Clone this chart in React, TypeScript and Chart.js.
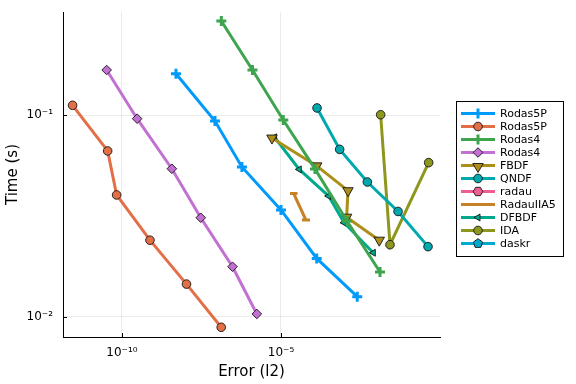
import React, { useEffect, useRef } from "react";
import { Chart, registerables } from "chart.js";

Chart.register(...registerables);

// ---- data ----
const rodas5pAErr = [5.0e-9, 8.4e-8, 5.9e-7, 1.0e-5, 1.33e-4, 2.5e-3];
const rodas5pATime = [0.16, 0.0933, 0.0553, 0.0339, 0.0195, 0.0126];

const rodas5pBErr = [2.8e-12, 3.55e-11, 6.8e-11, 7.6e-10, 1.07e-8, 1.32e-7];
const rodas5pBTime = [0.1117, 0.0664, 0.0402, 0.024, 0.01455, 0.00889];

const rodas4AErr = [1.33e-7, 1.27e-6, 1.18e-5, 1.17e-4, 1.19e-3, 1.3e-2];
const rodas4ATime = [0.292, 0.167, 0.0944, 0.0541, 0.0299, 0.0167];

const rodas4BErr = [3.3e-11, 3.0e-10, 3.7e-9, 3.0e-8, 3.0e-7, 1.74e-6];
const rodas4BTime = [0.167, 0.0959, 0.0542, 0.031, 0.01774, 0.01035];

const fbdfErr = [5.2e-6, 1.33e-4, 1.28e-3, 1.16e-3, 1.23e-2];
const fbdfTime = [0.0769, 0.056, 0.0422, 0.0312, 0.024];

const qndfErr = [1.36e-4, 7.0e-4, 5.2e-3, 4.8e-2, 0.42];
const qndfTime = [0.1084, 0.0676, 0.0466, 0.0333, 0.0223];

const radauErr: number[] = [];
const radauTime: number[] = [];

const radauIIA5Err = [1.92e-5, 3.3e-5, 2.5e-5, 6.1e-5, 4.57e-5, 8.17e-5];
const radauIIA5Time = [0.0409, 0.0409, 0.0409, 0.0302, 0.0302, 0.0302];

const dfbdfErr = [6.3e-6, 3.76e-5, 3.16e-4, 9.6e-4, 8.0e-3];
const dfbdfTime = [0.0776, 0.0538, 0.0397, 0.0293, 0.0208];

const idaErr = [1.36e-2, 2.68e-2, 0.44];
const idaTime = [0.1003, 0.0228, 0.0581];

const daskrErr: number[] = [];
const daskrTime: number[] = [];

const seriesNames = ["Rodas5P", "Rodas5P", "Rodas4", "Rodas4", "FBDF", "QNDF", "radau", "RadauIIA5", "DFBDF", "IDA", "daskr"];
const seriesColors = ["#009AFA", "#E36F47", "#3EA44E", "#C271D2", "#AC8E18", "#00A9AD", "#ED5E93", "#C68225", "#00A98D", "#8E971D", "#00A9CD"];
const seriesMarkers = ["cross", "circle", "cross", "diamond", "triDown", "circle", "hexagon", "none", "triLeft", "circle", "pentagon"];
const seriesErr = [rodas5pAErr, rodas5pBErr, rodas4AErr, rodas4BErr, fbdfErr, qndfErr, radauErr, radauIIA5Err, dfbdfErr, idaErr, daskrErr];
const seriesTime = [rodas5pATime, rodas5pBTime, rodas4ATime, rodas4BTime, fbdfTime, qndfTime, radauTime, radauIIA5Time, dfbdfTime, idaTime, daskrTime];

const xTickValues = [1e-10, 1e-5];
const xTickLabels = ["10⁻¹⁰", "10⁻⁵"];
const yTickValues = [1e-2, 1e-1];
const yTickLabels = ["10⁻²", "10⁻¹"];

const X_MIN = 1.4e-12;
const X_MAX = 1.0;
const Y_MIN = 0.00796;
const Y_MAX = 0.3236;

const FONT = "'DejaVu Sans', sans-serif";
const EDGE = "rgba(20,20,20,0.9)";

function chartPointStyle(m: string) {
  switch (m) {
    case "cross": return { pointStyle: "cross", rotation: 0 };
    case "circle": return { pointStyle: "circle", rotation: 0 };
    case "diamond": return { pointStyle: "rectRot", rotation: 0 };
    case "triDown": return { pointStyle: "triangle", rotation: 180 };
    case "triLeft": return { pointStyle: "triangle", rotation: -90 };
    default: return { pointStyle: false as any, rotation: 0 };
  }
}

function polygon(ctx: CanvasRenderingContext2D, x: number, y: number, r: number, n: number, start: number) {
  ctx.beginPath();
  for (let i = 0; i < n; i++) {
    const a = start + (i * 2 * Math.PI) / n;
    const px = x + r * Math.cos(a);
    const py = y + r * Math.sin(a);
    if (i === 0) ctx.moveTo(px, py); else ctx.lineTo(px, py);
  }
  ctx.closePath();
}

function drawMarker(ctx: CanvasRenderingContext2D, m: string, x: number, y: number, color: string) {
  ctx.save();
  ctx.fillStyle = color;
  ctx.strokeStyle = EDGE;
  ctx.lineWidth = 1;
  if (m === "cross") {
    ctx.strokeStyle = color;
    ctx.lineWidth = 3;
    ctx.beginPath();
    ctx.moveTo(x - 5, y); ctx.lineTo(x + 5, y);
    ctx.moveTo(x, y - 5); ctx.lineTo(x, y + 5);
    ctx.stroke();
  } else if (m === "circle") {
    ctx.beginPath(); ctx.arc(x, y, 4.3, 0, Math.PI * 2); ctx.fill(); ctx.stroke();
  } else if (m === "diamond") {
    polygon(ctx, x, y, 4.8, 4, -Math.PI / 2); ctx.fill(); ctx.stroke();
  } else if (m === "triDown") {
    polygon(ctx, x, y + 1, 6, 3, Math.PI / 2); ctx.fill(); ctx.stroke();
  } else if (m === "triLeft") {
    polygon(ctx, x, y, 4, 3, Math.PI); ctx.fill(); ctx.stroke();
  } else if (m === "hexagon") {
    polygon(ctx, x, y, 4.8, 6, 0); ctx.fill(); ctx.stroke();
  } else if (m === "pentagon") {
    polygon(ctx, x, y, 4.8, 5, -Math.PI / 2); ctx.fill(); ctx.stroke();
  }
  ctx.restore();
}

const legendPlugin = {
  id: "customLegend",
  afterDraw(chart: any) {
    const ctx: CanvasRenderingContext2D = chart.ctx;
    const bx = 456.5, by = 101.5, bw = 107, bh = 155;
    ctx.save();
    ctx.fillStyle = "#fff";
    ctx.fillRect(bx, by, bw, bh);
    ctx.strokeStyle = "#000";
    ctx.lineWidth = 1;
    ctx.strokeRect(bx, by, bw, bh);
    ctx.font = `11px ${FONT}`;
    ctx.textBaseline = "middle";
    ctx.textAlign = "left";
    seriesNames.forEach((name, i) => {
      const y = 113.5 + 13 * i;
      ctx.strokeStyle = seriesColors[i];
      ctx.lineWidth = 3;
      ctx.beginPath();
      ctx.moveTo(461, y); ctx.lineTo(495, y);
      ctx.stroke();
      drawMarker(ctx, seriesMarkers[i], 478, y, seriesColors[i]);
      ctx.fillStyle = "#000";
      ctx.fillText(name, 500, y + 0.5);
    });
    ctx.restore();
  },
};

const innerTicksPlugin = {
  id: "innerTicks",
  afterDraw(chart: any) {
    const ctx: CanvasRenderingContext2D = chart.ctx;
    const { left, bottom } = chart.chartArea;
    const xs = chart.scales.x, ys = chart.scales.y;
    ctx.save();
    ctx.strokeStyle = "#000";
    ctx.lineWidth = 1;
    ctx.beginPath();
    xTickValues.forEach((v) => {
      const px = Math.round(xs.getPixelForValue(v)) + 0.5;
      ctx.moveTo(px, bottom); ctx.lineTo(px, bottom - 4);
    });
    yTickValues.forEach((v) => {
      const py = Math.round(ys.getPixelForValue(v)) + 0.5;
      ctx.moveTo(left, py); ctx.lineTo(left + 4, py);
    });
    ctx.stroke();
    ctx.restore();
  },
};

export default function App() {
  const ref = useRef<HTMLCanvasElement>(null);

  useEffect(() => {
    document.body.style.margin = "0";
    Chart.defaults.font.family = FONT;
    const datasets = seriesNames.map((name, i) => {
      const ps = chartPointStyle(seriesMarkers[i]);
      const isCross = seriesMarkers[i] === "cross";
      const m = seriesMarkers[i];
      return {
        label: name,
        data: seriesErr[i].map((x, j) => ({ x, y: seriesTime[i][j] })),
        showLine: true,
        borderColor: seriesColors[i],
        backgroundColor: seriesColors[i],
        borderWidth: 3,
        pointStyle: ps.pointStyle,
        pointRotation: ps.rotation,
        pointRadius: m === "none" ? 0 : isCross ? 5 : m === "triDown" ? 6 : m === "triLeft" ? 4 : m === "diamond" ? 4.8 : 4.3,
        pointBorderColor: isCross ? seriesColors[i] : EDGE,
        pointBorderWidth: isCross ? 3 : 1,
        pointBackgroundColor: seriesColors[i],
        tension: 0,
      };
    });

    const chart = new Chart(ref.current as HTMLCanvasElement, {
      type: "scatter",
      data: { datasets: datasets as any },
      options: {
        animation: false,
        responsive: false,
        maintainAspectRatio: false,
        events: [],
        layout: { padding: { top: 12, right: 136, left: 0, bottom: 0 } },
        plugins: { legend: { display: false }, tooltip: { enabled: false } },
        scales: {
          x: {
            type: "logarithmic",
            position: "bottom",
            min: X_MIN,
            max: X_MAX,
            afterBuildTicks: (s: any) => { s.ticks = xTickValues.map((v) => ({ value: v })); },
            afterFit: (s: any) => { s.height = 47; s.paddingLeft = 0; s.paddingRight = 0; },
            ticks: {
              autoSkip: false,
              maxRotation: 0,
              padding: 9,
              color: "#000",
              font: { size: 12, family: FONT },
              callback: (v: any) => xTickLabels[xTickValues.findIndex((t) => Math.abs(Math.log10(t) - Math.log10(v)) < 1e-6)] ?? "",
            },
            grid: { color: "rgba(0,0,0,0.08)", drawTicks: false, lineWidth: 1 },
            border: { color: "#000", width: 1 },
            title: { display: true, text: "Error (l2)", color: "#000", font: { size: 15, family: FONT }, padding: { top: 0, bottom: 3 } },
          },
          y: {
            type: "logarithmic",
            position: "left",
            min: Y_MIN,
            max: Y_MAX,
            afterBuildTicks: (s: any) => { s.ticks = yTickValues.map((v) => ({ value: v })); },
            afterFit: (s: any) => { s.width = 63; s.paddingTop = 0; s.paddingBottom = 0; },
            ticks: {
              autoSkip: false,
              padding: 10,
              color: "#000",
              font: { size: 12, family: FONT },
              callback: (v: any) => yTickLabels[yTickValues.findIndex((t) => Math.abs(Math.log10(t) - Math.log10(v)) < 1e-6)] ?? "",
            },
            grid: { color: "rgba(0,0,0,0.08)", drawTicks: false, lineWidth: 1 },
            border: { color: "#000", width: 1 },
            title: { display: true, text: "Time (s)", color: "#000", font: { size: 15, family: FONT }, padding: { top: 4, bottom: 0 } },
          },
        },
      } as any,
      plugins: [innerTicksPlugin, legendPlugin],
    });
    return () => chart.destroy();
  }, []);

  return (
    <div style={{ width: 576, height: 384, background: "#fff" }}>
      <canvas ref={ref} width={576} height={384} style={{ display: "block", width: 576, height: 384 }} />
    </div>
  );
}
